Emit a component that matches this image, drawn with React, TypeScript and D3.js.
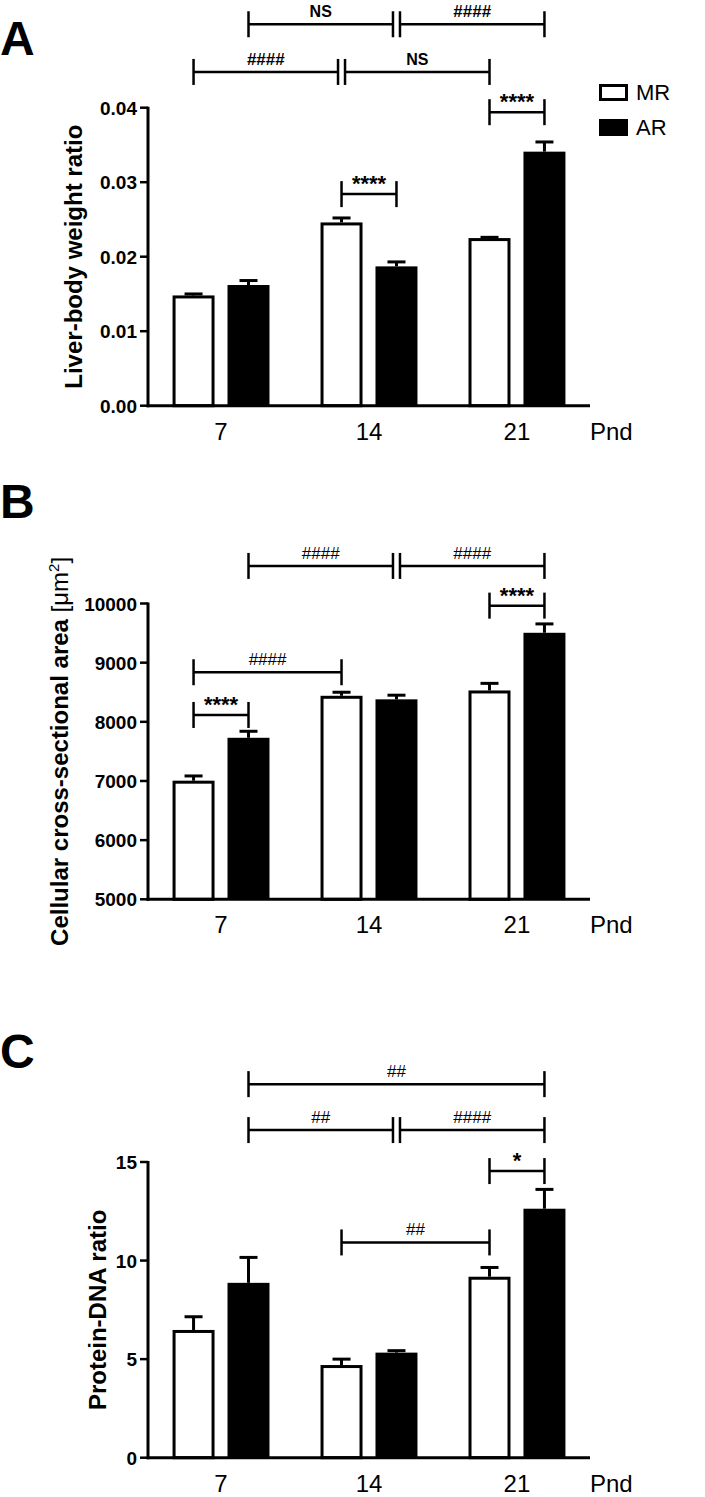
import React from 'react';
import * as d3 from 'd3';

const groups = ['7', '14', '21'];
const series = ['MR', 'AR'];

// A: liver-body weight ratio
const liverMR = [0.0148, 0.0246, 0.0225];
const liverMRErr = [0.0002, 0.0006, 0.0001];
const liverAR = [0.0162, 0.0187, 0.0341];
const liverARErr = [0.0006, 0.0006, 0.0013];
const liverTicks = [0, 0.01, 0.02, 0.03, 0.04];
const liverBrackets = [
  { from: ['7', 'AR'], to: ['14', 'AR'], at: 0.0512, label: 'NS' },
  { from: ['14', 'AR'], to: ['21', 'AR'], at: 0.0512, label: '####' },
  { from: ['7', 'MR'], to: ['14', 'MR'], at: 0.0448, label: '####' },
  { from: ['14', 'MR'], to: ['21', 'MR'], at: 0.0448, label: 'NS' },
  { from: ['21', 'MR'], to: ['21', 'AR'], at: 0.0394, label: '****' },
  { from: ['14', 'MR'], to: ['14', 'AR'], at: 0.0284, label: '****' },
];

// B: cellular cross-sectional area
const areaMR = [7005, 8440, 8530];
const areaMRErr = [80, 60, 120];
const areaAR = [7730, 8380, 9505];
const areaARErr = [110, 70, 150];
const areaTicks = [5000, 6000, 7000, 8000, 9000, 10000];
const areaBrackets = [
  { from: ['7', 'AR'], to: ['14', 'AR'], at: 10635, label: '####' },
  { from: ['14', 'AR'], to: ['21', 'AR'], at: 10635, label: '####' },
  { from: ['21', 'MR'], to: ['21', 'AR'], at: 9964, label: '****' },
  { from: ['7', 'MR'], to: ['14', 'MR'], at: 8838, label: '####' },
  { from: ['7', 'MR'], to: ['7', 'AR'], at: 8116, label: '****' },
];

// C: protein-DNA ratio
const protMR = [6.48, 4.7, 9.18];
const protMRErr = [0.67, 0.3, 0.47];
const protAR = [8.87, 5.33, 12.63];
const protARErr = [1.29, 0.1, 0.98];
const protTicks = [0, 5, 10, 15];
const protBrackets = [
  { from: ['7', 'AR'], to: ['21', 'AR'], at: 18.95, label: '##' },
  { from: ['7', 'AR'], to: ['14', 'AR'], at: 16.62, label: '##' },
  { from: ['14', 'AR'], to: ['21', 'AR'], at: 16.62, label: '####' },
  { from: ['21', 'MR'], to: ['21', 'AR'], at: 14.54, label: '*' },
  { from: ['14', 'MR'], to: ['21', 'MR'], at: 10.92, label: '##' },
];

const FONT = '"Liberation Sans", Arial, sans-serif';
const AXIS_X = 148;
const AXIS_END = 590;

const x0 = d3.scaleBand().domain(groups).range([AXIS_X, AXIS_END]).paddingInner(0.345).paddingOuter(0.166);
const x1 = d3.scaleBand().domain(series).range([0, x0.bandwidth()]).paddingInner(0.236);
const cx = (g, s) => x0(g) + x1(s) + x1.bandwidth() / 2;

const Panel = ({ letter, letterY, y0, y1, domain, ticks, fmt, label, labelX, labelSup, mr, mrErr, ar, arErr, brackets, legend, boldHash }) => {
  const y = d3.scaleLinear().domain(domain).range([y0, y1]);
  const bw = x1.bandwidth();
  const key = (p) => p.join('-');

  const bars = groups.flatMap((g, i) => [
    { g, s: 'MR', v: mr[i], e: mrErr[i] },
    { g, s: 'AR', v: ar[i], e: arErr[i] },
  ]);

  return (
    <g>
      <text x={0} y={letterY} fontSize={48} fontWeight="bold" fontFamily={FONT}>{letter}</text>

      {bars.map((b, i) => {
        const left = x0(b.g) + x1(b.s);
        const top = y(b.v);
        const c = left + bw / 2;
        const et = y(b.v + b.e);
        return (
          <g key={i}>
            <line x1={c} x2={c} y1={top} y2={et} stroke="#000" strokeWidth={3} />
            <line x1={c - 9} x2={c + 9} y1={et} y2={et} stroke="#000" strokeWidth={3} />
            {b.s === 'MR'
              ? <rect x={left + 1.5} y={top + 1.5} width={bw - 3} height={y0 - top - 1.5} fill="#fff" stroke="#000" strokeWidth={3} />
              : <rect x={left} y={top} width={bw} height={y0 - top} fill="#000" />}
          </g>
        );
      })}

      {/* axes */}
      <line x1={AXIS_X} x2={AXIS_X} y1={y1 - 1} y2={y0 + 1.5} stroke="#000" strokeWidth={3} />
      <line x1={AXIS_X - 1.5} x2={AXIS_END} y1={y0} y2={y0} stroke="#000" strokeWidth={3} />
      {ticks.map((t) => (
        <g key={t}>
          <line x1={AXIS_X - 8} x2={AXIS_X} y1={y(t)} y2={y(t)} stroke="#000" strokeWidth={2.5} />
          <text x={AXIS_X - 11} y={y(t) + 7} textAnchor="end" fontSize={19} fontWeight="bold" fontFamily={FONT}>{fmt(t)}</text>
        </g>
      ))}
      {groups.map((g) => (
        <text key={g} x={x0(g) + x0.bandwidth() / 2} y={y0 + 34} textAnchor="middle" fontSize={24} fontFamily={FONT}>{g}</text>
      ))}
      <text x={AXIS_END} y={y0 + 34} fontSize={24} fontFamily={FONT}>Pnd</text>

      <text transform={`translate(${labelX},${(y0 + y1) / 2}) rotate(-90)`} textAnchor="middle" fontSize={24} fontWeight="bold" fontFamily={FONT}>
        {label}
        {labelSup && <tspan fontWeight="normal">[μm</tspan>}
        {labelSup && <tspan fontWeight="normal" fontSize={15} dy={-9}>2</tspan>}
        {labelSup && <tspan fontWeight="normal" dy={9}>]</tspan>}
      </text>

      {brackets.map((b, i) => {
        const ly = y(b.at);
        const shared = (p) => brackets.some((o, j) => j !== i && o.at === b.at && (key(o.from) === key(p) || key(o.to) === key(p)));
        const xa = cx(b.from[0], b.from[1]) + (shared(b.from) ? 3.5 : 0);
        const xb = cx(b.to[0], b.to[1]) - (shared(b.to) ? 3.5 : 0);
        const star = b.label.includes('*');
        const isNS = b.label === 'NS';
        const bold = star || isNS || boldHash;
        return (
          <g key={i}>
            <line x1={xa} x2={xb} y1={ly} y2={ly} stroke="#000" strokeWidth={2.5} />
            <line x1={xa} x2={xa} y1={ly - 13} y2={ly + 13} stroke="#000" strokeWidth={2.5} />
            <line x1={xb} x2={xb} y1={ly - 13} y2={ly + 13} stroke="#000" strokeWidth={2.5} />
            <text x={(xa + xb) / 2} y={ly - (star ? 3 : 7)} textAnchor="middle"
              fontSize={star ? 22 : isNS ? 16 : 17} fontWeight={bold ? 'bold' : 'normal'} fontFamily={FONT}>{b.label}</text>
          </g>
        );
      })}

      {legend && series.map((s, i) => (
        <g key={s} transform={`translate(599,${84 + i * 35})`}>
          <rect x={1.5} y={1.5} width={26} height={14} fill={s === 'MR' ? '#fff' : '#000'} stroke="#000" strokeWidth={3} />
          <text x={37} y={16} fontSize={22} fontFamily={FONT}>{s}</text>
        </g>
      ))}
    </g>
  );
};

export default function App() {
  return (
    <svg width={705} height={1497} style={{ position: 'absolute', left: 0, top: 0, background: '#fff' }}>
      <rect width={705} height={1497} fill="#fff" />
      <Panel letter="A" letterY={55} y0={405.7} y1={107.7} domain={[0, 0.04]} ticks={liverTicks} fmt={d3.format('.2f')}
        label="Liver-body weight ratio" labelX={82} mr={liverMR} mrErr={liverMRErr} ar={liverAR} arErr={liverARErr}
        brackets={liverBrackets} legend boldHash />
      <Panel letter="B" letterY={518} y0={899.3} y1={603.5} domain={[5000, 10000]} ticks={areaTicks} fmt={d3.format('d')}
        label="Cellular cross-sectional area " labelSup labelX={68} mr={areaMR} mrErr={areaMRErr} ar={areaAR} arErr={areaARErr}
        brackets={areaBrackets} />
      <Panel letter="C" letterY={1068} y0={1457.7} y1={1162} domain={[0, 15]} ticks={protTicks} fmt={d3.format('d')}
        label="Protein-DNA ratio" labelX={106} mr={protMR} mrErr={protMRErr} ar={protAR} arErr={protARErr}
        brackets={protBrackets} />
    </svg>
  );
}
